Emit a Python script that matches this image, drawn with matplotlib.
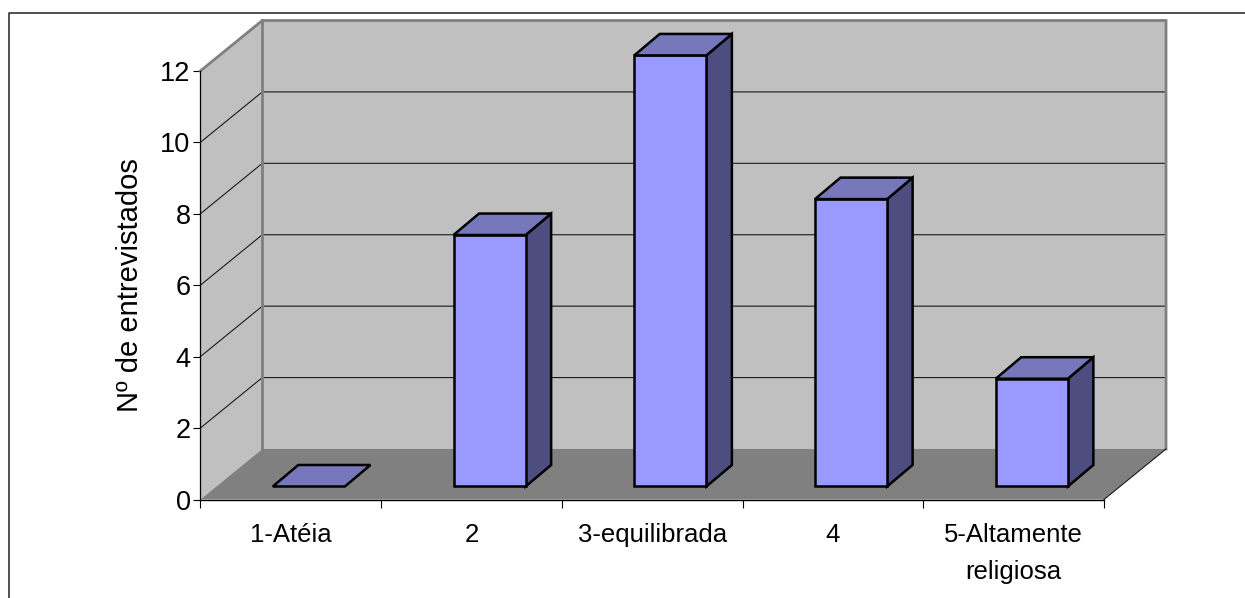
import numpy as np
from matplotlib import pyplot as plt
from matplotlib.lines import Line2D

categories = ["1-Atéia", "2", "3-equilibrada", "4", "5-Altamente\nreligiosa"]
values = [0, 7, 12, 8, 3]
yticks = [0, 2, 4, 6, 8, 10, 12]

plt.rcParams['font.family'] = ['Liberation Sans', 'DejaVu Sans']
plt.rcParams['font.size'] = 18.5

W, H = 1245, 598
fig = plt.figure(figsize=(W / 100, H / 100), dpi=100)
ax = fig.add_axes([200.3 / W, (H - 499.5) / H, (1104 - 200.3) / W, (499.5 - 71) / H])
ax.set_xlim(0, len(categories))
ax.set_ylim(0, 12)

# Depth of the fake 3d box and bars, in data units
dx = 62 / 180.7
dy = 50.5 / 35.7
bar_left = 0.401
bar_w = 0.399
bar_dx = 25.5 / 180.7
bar_dy = 21.5 / 35.7
bar_base = 13 / 35.7
bar_scale = 1.006

n = len(categories)

# walls and floor
ax.fill([0, dx, dx, 0], [0, dy, 12 + dy, 12], color="#c0c0c0", lw=0, clip_on=False, zorder=1)
ax.fill([dx, n + dx, n + dx, dx], [dy, dy, 12 + dy, 12 + dy], color="#c0c0c0", lw=0, clip_on=False, zorder=1)
ax.fill([0, n, n + dx, dx], [0, 0, dy, dy], color="#808080", lw=0, clip_on=False, zorder=1)

# gridlines on side and back walls
for t in yticks[1:-1]:
    ax.plot([0, dx, n + dx], [t, t + dy, t + dy], color="#1a1a1a", lw=0.8, clip_on=False, zorder=2)

# grey outline of the wall
ax.plot([0, dx, n + dx, n + dx], [12, 12 + dy, 12 + dy, dy], color="#808080", lw=2.0,
        clip_on=False, zorder=3, solid_joinstyle="miter")
ax.plot([dx, dx], [dy, 12 + dy], color="#808080", lw=2.0, clip_on=False, zorder=3)
ax.plot([n, n + dx], [0, dy], color="#1a1a1a", lw=0.8, clip_on=False, zorder=3)

# bars
for i, v in enumerate(values):
    x0 = i + bar_left
    x1 = x0 + bar_w
    y0 = bar_base
    y1 = v * bar_scale + bar_base
    if v > 0:
        ax.fill([x1, x1 + bar_dx, x1 + bar_dx, x1], [y0, y0 + bar_dy, y1 + bar_dy, y1],
                facecolor="#4d4d80", edgecolor="black", lw=1.8, clip_on=False, zorder=4)
        ax.fill([x0, x1, x1, x0], [y0, y0, y1, y1],
                facecolor="#9999ff", edgecolor="black", lw=1.8, clip_on=False, zorder=5)
    ax.fill([x0, x1, x1 + bar_dx, x0 + bar_dx], [y1, y1, y1 + bar_dy, y1 + bar_dy],
            facecolor="#7777bb", edgecolor="black", lw=1.8, clip_on=False, zorder=5)

ax.patch.set_visible(False)
ax.spines["top"].set_visible(False)
ax.spines["right"].set_visible(False)
ax.spines["left"].set_linewidth(0.9)
ax.spines["bottom"].set_linewidth(1.0)
for s in ax.spines.values():
    s.set_zorder(6)

ax.set_yticks(yticks)
ax.tick_params(axis="y", length=5, width=0.8, pad=2, labelsize=19.5)
ax.set_xticks(np.arange(n + 1))
ax.set_xticklabels([])
ax.tick_params(axis="x", which="major", length=6, width=0.8)
ax.set_xticks(np.arange(n) + 0.5, minor=True)
ax.set_xticklabels(categories, minor=True, linespacing=1.68)
ax.tick_params(axis="x", which="minor", length=0, pad=17)
ax.set_ylabel("Nº de entrevistados", labelpad=12, fontsize=21)

# chart frame, only top and left show in the crop
fig.add_artist(Line2D([9 / W, 9 / W, 1], [0, (H - 13) / H, (H - 13) / H], color="#222222", lw=1.1))

plt.savefig("out.png", dpi=100)
